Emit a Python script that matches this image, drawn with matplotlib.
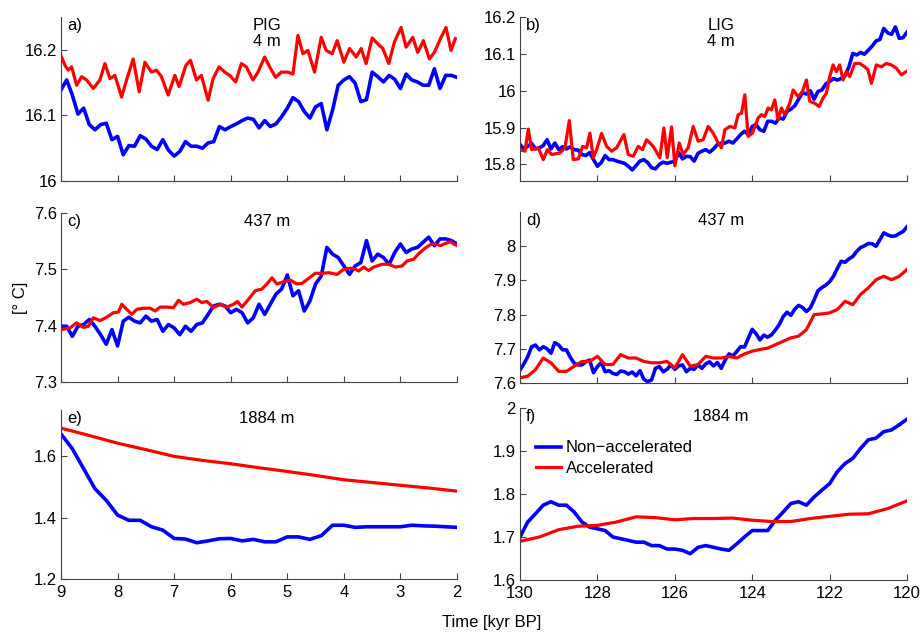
import numpy as np
import matplotlib
matplotlib.use("Agg")
import matplotlib.pyplot as plt
from matplotlib.ticker import FormatStrFormatter

plt.rcParams['font.family'] = ['Liberation Sans', 'DejaVu Sans']
plt.rcParams['font.size'] = 12

# ---- data ----
# a) PIG 4 m
t_a_blue = np.linspace(9, 2, 71)
a_blue = [16.139, 16.154, 16.131, 16.102, 16.111, 16.086, 16.078, 16.086, 16.088, 16.063,
          16.068, 16.040, 16.054, 16.053, 16.069, 16.064, 16.053, 16.048, 16.063, 16.047,
          16.038, 16.045, 16.060, 16.053, 16.053, 16.050, 16.058, 16.060, 16.083, 16.078,
          16.083, 16.087, 16.092, 16.096, 16.094, 16.081, 16.092, 16.083, 16.087, 16.098,
          16.111, 16.127, 16.121, 16.106, 16.096, 16.113, 16.118, 16.078, 16.108, 16.146,
          16.154, 16.159, 16.149, 16.121, 16.124, 16.166, 16.159, 16.151, 16.161, 16.155,
          16.141, 16.163, 16.154, 16.151, 16.146, 16.146, 16.171, 16.141, 16.161, 16.161,
          16.158]
t_a_red = [9.000, 8.929, 8.871, 8.812, 8.724, 8.635, 8.547, 8.429, 8.312, 8.224,
           8.135, 8.047, 7.929, 7.841, 7.724, 7.618, 7.518, 7.400, 7.312, 7.224,
           7.106, 6.988, 6.912, 6.794, 6.712, 6.606, 6.518, 6.400, 6.312, 6.206,
           6.106, 6.018, 5.912, 5.812, 5.724, 5.606, 5.518, 5.400, 5.312, 5.206,
           5.106, 4.988, 4.900, 4.812, 4.724, 4.635, 4.518, 4.400, 4.312, 4.206,
           4.118, 4.000, 3.900, 3.782, 3.694, 3.606, 3.500, 3.400, 3.312, 3.206,
           3.106, 2.988, 2.900, 2.782, 2.694, 2.594, 2.488, 2.400, 2.282, 2.194,
           2.106, 2.029]
a_red = [16.191, 16.176, 16.169, 16.174, 16.146, 16.159, 16.154, 16.141, 16.154, 16.179,
         16.156, 16.161, 16.128, 16.154, 16.186, 16.136, 16.181, 16.166, 16.169, 16.159,
         16.131, 16.161, 16.144, 16.176, 16.184, 16.154, 16.161, 16.123, 16.156, 16.174,
         16.166, 16.161, 16.151, 16.179, 16.174, 16.154, 16.166, 16.189, 16.174, 16.158,
         16.166, 16.166, 16.163, 16.222, 16.194, 16.199, 16.166, 16.219, 16.199, 16.194,
         16.214, 16.181, 16.202, 16.189, 16.202, 16.179, 16.218, 16.209, 16.202, 16.179,
         16.212, 16.234, 16.204, 16.219, 16.196, 16.214, 16.186, 16.196, 16.219, 16.234,
         16.199, 16.217]

# b) LIG 4 m
t_b_blue = np.linspace(130, 120, 101)
b_blue = [15.854, 15.842, 15.849, 15.857, 15.842, 15.845, 15.851, 15.867, 15.842, 15.858,
          15.840, 15.848, 15.842, 15.848, 15.840, 15.839, 15.827, 15.824, 15.832, 15.813,
          15.795, 15.805, 15.824, 15.813, 15.813, 15.809, 15.806, 15.803, 15.795, 15.785,
          15.797, 15.809, 15.813, 15.805, 15.791, 15.788, 15.800, 15.806, 15.803, 15.806,
          15.809, 15.832, 15.815, 15.822, 15.821, 15.809, 15.830, 15.836, 15.840, 15.833,
          15.842, 15.854, 15.858, 15.858, 15.863, 15.858, 15.869, 15.881, 15.890, 15.881,
          15.903, 15.908, 15.894, 15.890, 15.917, 15.917, 15.912, 15.926, 15.923, 15.944,
          15.950, 15.959, 15.977, 15.995, 15.991, 16.000, 15.977, 15.998, 16.002, 16.018,
          16.025, 16.033, 16.029, 16.033, 16.040, 16.065, 16.101, 16.097, 16.104, 16.099,
          16.110, 16.121, 16.135, 16.139, 16.169, 16.157, 16.153, 16.173, 16.142, 16.144,
          16.159]
t_b_red = [130.000, 129.871, 129.785, 129.699, 129.527, 129.398, 129.294, 129.182, 128.967, 128.838,
           128.726, 128.623, 128.494, 128.382, 128.279, 128.193, 128.107, 128.021, 127.892, 127.762,
           127.633, 127.504, 127.315, 127.203, 127.074, 126.945, 126.833, 126.730, 126.558, 126.386,
           126.282, 126.196, 126.084, 125.998, 125.886, 125.783, 125.654, 125.525, 125.396, 125.267,
           125.138, 125.009, 124.879, 124.793, 124.707, 124.578, 124.449, 124.363, 124.277, 124.191,
           124.105, 123.993, 123.847, 123.761, 123.675, 123.589, 123.503, 123.417, 123.330, 123.244,
           123.158, 123.029, 122.943, 122.814, 122.702, 122.599, 122.513, 122.384, 122.272, 122.169,
           122.083, 121.997, 121.910, 121.824, 121.738, 121.652, 121.566, 121.480, 121.351, 121.222,
           121.093, 121.007, 120.921, 120.792, 120.663, 120.534, 120.404, 120.275, 120.146, 120.017]
b_red = [15.840, 15.836, 15.896, 15.840, 15.845, 15.813, 15.840, 15.827, 15.831, 15.845,
         15.919, 15.813, 15.815, 15.849, 15.845, 15.885, 15.818, 15.840, 15.884, 15.849,
         15.836, 15.845, 15.881, 15.827, 15.822, 15.849, 15.840, 15.867, 15.849, 15.818,
         15.899, 15.818, 15.902, 15.796, 15.858, 15.827, 15.845, 15.903, 15.863, 15.867,
         15.903, 15.885, 15.858, 15.845, 15.894, 15.903, 15.899, 15.935, 15.939, 15.989,
         15.876, 15.885, 15.926, 15.935, 15.930, 15.953, 15.948, 15.975, 15.921, 15.953,
         15.935, 15.966, 16.002, 15.984, 15.998, 16.029, 15.971, 15.966, 15.957, 15.980,
         15.993, 16.038, 16.070, 16.052, 16.070, 16.029, 16.052, 16.038, 16.074, 16.074,
         16.065, 16.056, 16.020, 16.070, 16.065, 16.074, 16.070, 16.061, 16.043, 16.052]

# c) PIG 437 m
t_c_blue = np.linspace(9, 2, 71)
c_blue = [7.399, 7.399, 7.381, 7.399, 7.402, 7.411, 7.399, 7.384, 7.367, 7.393,
          7.364, 7.408, 7.415, 7.408, 7.405, 7.417, 7.408, 7.411, 7.390, 7.402,
          7.396, 7.384, 7.399, 7.390, 7.402, 7.405, 7.420, 7.435, 7.438, 7.435,
          7.423, 7.429, 7.423, 7.405, 7.414, 7.438, 7.420, 7.438, 7.456, 7.465,
          7.490, 7.453, 7.462, 7.426, 7.444, 7.474, 7.488, 7.539, 7.527, 7.521,
          7.506, 7.491, 7.506, 7.512, 7.551, 7.515, 7.527, 7.521, 7.509, 7.530,
          7.545, 7.530, 7.536, 7.539, 7.548, 7.557, 7.542, 7.554, 7.554, 7.551,
          7.545]
t_c_red = [9.000, 8.841, 8.723, 8.605, 8.516, 8.428, 8.310, 8.192, 8.074, 7.985,
           7.926, 7.838, 7.749, 7.661, 7.543, 7.425, 7.336, 7.248, 7.130, 7.012,
           6.923, 6.835, 6.717, 6.599, 6.510, 6.422, 6.304, 6.186, 6.068, 5.950,
           5.879, 5.802, 5.684, 5.566, 5.448, 5.360, 5.271, 5.183, 5.065, 4.947,
           4.829, 4.740, 4.622, 4.504, 4.386, 4.268, 4.121, 4.003, 3.885, 3.796,
           3.737, 3.649, 3.560, 3.472, 3.324, 3.206, 3.088, 2.971, 2.882, 2.764,
           2.676, 2.558, 2.469, 2.381, 2.292, 2.204, 2.115, 2.056, 2.000]
c_red = [7.393, 7.396, 7.405, 7.397, 7.399, 7.414, 7.409, 7.415, 7.423, 7.424,
         7.438, 7.429, 7.420, 7.429, 7.431, 7.431, 7.426, 7.433, 7.433, 7.432,
         7.445, 7.438, 7.441, 7.447, 7.441, 7.443, 7.432, 7.438, 7.433, 7.438,
         7.443, 7.433, 7.447, 7.462, 7.465, 7.474, 7.485, 7.474, 7.478, 7.481,
         7.474, 7.475, 7.484, 7.493, 7.493, 7.494, 7.491, 7.500, 7.502, 7.500,
         7.497, 7.504, 7.498, 7.504, 7.509, 7.509, 7.504, 7.506, 7.515, 7.518,
         7.528, 7.538, 7.544, 7.545, 7.542, 7.546, 7.549, 7.545, 7.542]

# d) LIG 437 m
t_d_blue = np.linspace(130, 120, 101)
d_blue = [7.638, 7.656, 7.677, 7.706, 7.711, 7.697, 7.706, 7.700, 7.687, 7.718,
          7.711, 7.697, 7.697, 7.675, 7.658, 7.653, 7.653, 7.662, 7.667, 7.630,
          7.648, 7.660, 7.633, 7.636, 7.628, 7.625, 7.635, 7.633, 7.626, 7.632,
          7.621, 7.636, 7.611, 7.604, 7.609, 7.643, 7.648, 7.633, 7.640, 7.653,
          7.640, 7.650, 7.653, 7.633, 7.643, 7.640, 7.653, 7.643, 7.656, 7.662,
          7.650, 7.660, 7.643, 7.667, 7.685, 7.679, 7.692, 7.706, 7.705, 7.731,
          7.757, 7.744, 7.726, 7.740, 7.734, 7.741, 7.755, 7.771, 7.794, 7.807,
          7.798, 7.816, 7.827, 7.821, 7.809, 7.819, 7.843, 7.870, 7.879, 7.886,
          7.896, 7.912, 7.935, 7.956, 7.953, 7.963, 7.970, 7.985, 7.996, 8.001,
          8.008, 8.007, 8.000, 8.019, 8.039, 8.033, 8.029, 8.030, 8.037, 8.043,
          8.057]
t_d_red = np.linspace(130, 120, 51)
d_red = [7.615, 7.620, 7.639, 7.673, 7.659, 7.634, 7.634, 7.649, 7.663, 7.663,
         7.678, 7.654, 7.654, 7.683, 7.673, 7.673, 7.663, 7.659, 7.659, 7.663,
         7.644, 7.683, 7.649, 7.654, 7.678, 7.673, 7.673, 7.678, 7.673, 7.685,
         7.693, 7.698, 7.702, 7.712, 7.722, 7.732, 7.737, 7.756, 7.800, 7.802,
         7.805, 7.815, 7.839, 7.829, 7.859, 7.878, 7.902, 7.912, 7.902, 7.912,
         7.932]

# e) PIG 1884 m
t_e_blue = np.linspace(9, 2, 36)
e_blue = [1.672, 1.624, 1.559, 1.494, 1.456, 1.408, 1.391, 1.391, 1.370, 1.359,
          1.332, 1.330, 1.318, 1.324, 1.331, 1.332, 1.324, 1.329, 1.321, 1.321,
          1.337, 1.337, 1.329, 1.341, 1.375, 1.375, 1.368, 1.370, 1.370, 1.370,
          1.370, 1.375, 1.373, 1.372, 1.370, 1.368]
t_e_red = np.linspace(9, 2, 15)
e_red = [1.691, 1.667, 1.642, 1.621, 1.599, 1.586, 1.575, 1.562, 1.550, 1.537,
         1.523, 1.514, 1.505, 1.496, 1.486]

# f) LIG 1884 m
t_f_blue = np.linspace(130, 120, 51)
f_blue = [1.700, 1.735, 1.754, 1.774, 1.782, 1.774, 1.774, 1.758, 1.735, 1.723,
          1.719, 1.715, 1.700, 1.696, 1.692, 1.688, 1.688, 1.680, 1.680, 1.672,
          1.672, 1.669, 1.661, 1.676, 1.680, 1.676, 1.672, 1.669, 1.684, 1.700,
          1.715, 1.715, 1.715, 1.739, 1.758, 1.778, 1.782, 1.774, 1.793, 1.809,
          1.824, 1.852, 1.871, 1.883, 1.906, 1.926, 1.930, 1.945, 1.949, 1.961,
          1.974]
t_f_red = np.linspace(130, 120, 21)
f_red = [1.690, 1.700, 1.717, 1.725, 1.727, 1.735, 1.747, 1.745, 1.740, 1.743,
         1.743, 1.744, 1.739, 1.736, 1.736, 1.743, 1.748, 1.753, 1.754, 1.766,
         1.784]

# ---- figure ----
fig = plt.figure(figsize=(9.24, 6.39), dpi=100)
W, H = 924.0, 639.0

def make_ax(x0, x1, top, bot):
    return fig.add_axes([x0 / W, 1 - bot / H, (x1 - x0) / W, (bot - top) / H])

axa = make_ax(61, 457, 17, 181)
axb = make_ax(520, 907, 17, 181)
axc = make_ax(61, 457, 213, 382)
axd = make_ax(520, 907, 212, 383)
axe = make_ax(61, 457, 410, 579)
axf = make_ax(520, 907, 408, 580)

panels = [
    (axa, t_a_blue, a_blue, t_a_red, a_red, 'a)', 'PIG\n4 m', (16, 16.25), [16, 16.1, 16.2]),
    (axb, t_b_blue, b_blue, t_b_red, b_red, 'b)', 'LIG\n4 m', (15.755, 16.2), [15.8, 15.9, 16, 16.1, 16.2]),
    (axc, t_c_blue, c_blue, t_c_red, c_red, 'c)', '437 m', (7.3, 7.6), [7.3, 7.4, 7.5, 7.6]),
    (axd, t_d_blue, d_blue, t_d_red, d_red, 'd)', '437 m', (7.6, 8.1), [7.6, 7.7, 7.8, 7.9, 8.0]),
    (axe, t_e_blue, e_blue, t_e_red, e_red, 'e)', '1884 m', (1.2, 1.75), [1.2, 1.4, 1.6]),
    (axf, t_f_blue, f_blue, t_f_red, f_red, 'f)', '1884 m', (1.6, 2.0), [1.6, 1.7, 1.8, 1.9, 2]),
]

for i, (ax, tb, yb, tr, yr, lab, ttl, ylim, yt) in enumerate(panels):
    ax.plot(tb, yb, color='#0000ff', lw=2.6, label='Non\u2212accelerated')
    ax.plot(tr, yr, color='#ff0000', lw=2.3, label='Accelerated')
    left_col = (i % 2 == 0)
    if left_col:
        ax.set_xlim(9, 2)
        ax.set_xticks([9, 8, 7, 6, 5, 4, 3, 2])
    else:
        ax.set_xlim(130, 120)
        ax.set_xticks([130, 128, 126, 124, 122, 120])
    ax.set_ylim(*ylim)
    ax.set_yticks(yt)
    ax.yaxis.set_major_formatter(FormatStrFormatter('%g'))
    ax.spines['top'].set_visible(False)
    ax.spines['right'].set_visible(False)
    for s in ('left', 'bottom'):
        ax.spines[s].set_color('#444444')
        ax.spines[s].set_linewidth(0.8)
    ax.tick_params(direction='in', length=4, width=0.8, color='#444444', pad=3)
    ax.tick_params(axis='x', pad=4.5)
    if i < 4:
        ax.tick_params(axis='x', labelbottom=False)
    ax.text(0.015, 0.995, lab, transform=ax.transAxes, ha='left', va='top')
    ax.text(0.52, 0.995, ttl, transform=ax.transAxes, ha='center', va='top',
            linespacing=1.1)

axf.legend(loc='upper left', bbox_to_anchor=(0.025, 0.85), frameon=False,
           handlelength=1.5, handletextpad=0.25, labelspacing=0.35, borderaxespad=0)

fig.text(20 / W, 1 - 298 / H, '[\u00b0 C]', rotation=90, ha='center', va='center')
fig.text(492 / W, 1 - 623 / H, 'Time [kyr BP]', ha='center', va='center')

fig.savefig('out.png', dpi=100)
